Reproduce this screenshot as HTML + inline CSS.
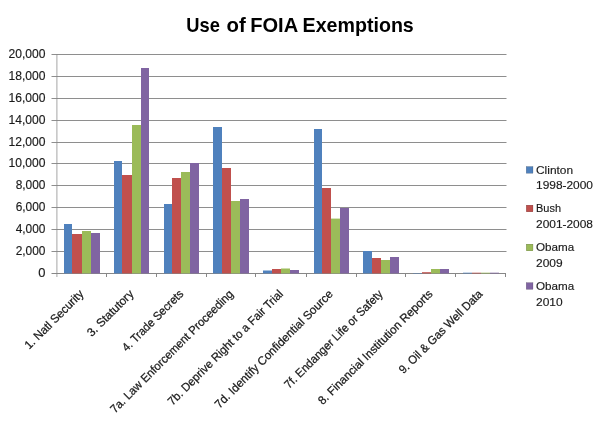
<!DOCTYPE html>
<html lang="en">
<head>
<meta charset="utf-8">
<title>Use of FOIA Exemptions</title>
<style>
html,body{margin:0;padding:0;background:#fff;}
body{width:600px;height:427px;overflow:hidden;}
svg{display:block;}
text{font-family:"Liberation Sans",Arial,sans-serif;fill:#1a1a1a;}
.t{font-weight:bold;font-size:19.9px;fill:#000;}
.a{font-size:12px;stroke:#1a1a1a;stroke-width:0.15px;}
.l{font-size:11.7px;stroke:#1a1a1a;stroke-width:0.15px;}
.c{font-size:11.8px;stroke:#1a1a1a;stroke-width:0.25px;}
</style>
</head>
<body>
<svg width="600" height="427" viewBox="0 0 600 427">
<rect width="600" height="427" fill="#ffffff"/>
<text class="t" y="32.2"><tspan x="186.3" textLength="33.6" lengthAdjust="spacingAndGlyphs">Use</tspan> <tspan x="226.6" textLength="19.2" lengthAdjust="spacingAndGlyphs">of</tspan> <tspan x="250.2" textLength="47.2" lengthAdjust="spacingAndGlyphs">FOIA</tspan> <tspan x="302.6" textLength="111.2" lengthAdjust="spacingAndGlyphs">Exemptions</tspan></text>
<g fill="#8e8e8e">
<rect x="51.5" y="54" width="455" height="1"/>
<rect x="51.5" y="76" width="455" height="1"/>
<rect x="51.5" y="98" width="455" height="1"/>
<rect x="51.5" y="120" width="455" height="1"/>
<rect x="51.5" y="142" width="455" height="1"/>
<rect x="51.5" y="163" width="455" height="1"/>
<rect x="51.5" y="185" width="455" height="1"/>
<rect x="51.5" y="207" width="455" height="1"/>
<rect x="51.5" y="229" width="455" height="1"/>
<rect x="51.5" y="251" width="455" height="1"/>
</g>
<g fill="#878787">
<rect x="56.4" y="54" width="1" height="223" opacity="0.75"/>
<rect x="51.5" y="273" width="454.5" height="1"/>
<rect x="106" y="273" width="1" height="4"/>
<rect x="156" y="273" width="1" height="4"/>
<rect x="206" y="273" width="1" height="4"/>
<rect x="255" y="273" width="1" height="4"/>
<rect x="306" y="273" width="1" height="4"/>
<rect x="356" y="273" width="1" height="4"/>
<rect x="405" y="273" width="1" height="4"/>
<rect x="455" y="273" width="1" height="4"/>
<rect x="505" y="273" width="1" height="4"/>
</g>
<g>
<rect x="64" y="224" width="8" height="49.4" fill="#4F81BD"/>
<rect x="72" y="234" width="10" height="39.4" fill="#C0504D"/>
<rect x="82" y="231" width="9" height="42.4" fill="#9BBB59"/>
<rect x="91" y="233" width="9" height="40.4" fill="#8064A2"/>
</g>
<g>
<rect x="114" y="161" width="8" height="112.4" fill="#4F81BD"/>
<rect x="122" y="175" width="10" height="98.4" fill="#C0504D"/>
<rect x="132" y="125" width="9" height="148.4" fill="#9BBB59"/>
<rect x="141" y="68" width="8" height="205.4" fill="#8064A2"/>
</g>
<g>
<rect x="164" y="204" width="8" height="69.4" fill="#4F81BD"/>
<rect x="172" y="178" width="9" height="95.4" fill="#C0504D"/>
<rect x="181" y="172" width="9" height="101.4" fill="#9BBB59"/>
<rect x="190" y="163" width="9" height="110.4" fill="#8064A2"/>
</g>
<g>
<rect x="213" y="127" width="9" height="146.4" fill="#4F81BD"/>
<rect x="222" y="168" width="9" height="105.4" fill="#C0504D"/>
<rect x="231" y="201" width="9" height="72.4" fill="#9BBB59"/>
<rect x="240" y="199" width="9" height="74.4" fill="#8064A2"/>
</g>
<g>
<rect x="263" y="270.5" width="9" height="2.9" fill="#4F81BD"/>
<rect x="272" y="269" width="9" height="4.4" fill="#C0504D"/>
<rect x="281" y="268.5" width="9" height="4.9" fill="#9BBB59"/>
<rect x="290" y="270" width="9" height="3.4" fill="#8064A2"/>
</g>
<g>
<rect x="314" y="129" width="8" height="144.4" fill="#4F81BD"/>
<rect x="322" y="188" width="9" height="85.4" fill="#C0504D"/>
<rect x="331" y="218.6" width="9" height="54.8" fill="#9BBB59"/>
<rect x="340" y="208" width="9" height="65.4" fill="#8064A2"/>
</g>
<g>
<rect x="363" y="251" width="9" height="22.4" fill="#4F81BD"/>
<rect x="372" y="258" width="9" height="15.4" fill="#C0504D"/>
<rect x="381" y="260" width="9" height="13.4" fill="#9BBB59"/>
<rect x="390" y="257" width="9" height="16.4" fill="#8064A2"/>
</g>
<g>
<rect x="413" y="273" width="9" height="0.4" fill="#4F81BD"/>
<rect x="422" y="272.2" width="9" height="1.2" fill="#C0504D"/>
<rect x="431" y="269" width="9" height="4.4" fill="#9BBB59"/>
<rect x="440" y="269" width="9" height="4.4" fill="#8064A2"/>
</g>
<g>
<rect x="463" y="272.7" width="9" height="0.7" fill="#4F81BD"/>
<rect x="472" y="272.7" width="9" height="0.7" fill="#C0504D"/>
<rect x="481" y="272.7" width="9" height="0.7" fill="#9BBB59"/>
<rect x="490" y="272.7" width="9" height="0.7" fill="#8064A2"/>
</g>
<g class="a" text-anchor="end">
<text x="45.5" y="58.1" textLength="37.0" lengthAdjust="spacingAndGlyphs">20,000</text>
<text x="45.5" y="80.1" textLength="37.0" lengthAdjust="spacingAndGlyphs">18,000</text>
<text x="45.5" y="102.1" textLength="37.0" lengthAdjust="spacingAndGlyphs">16,000</text>
<text x="45.5" y="124.1" textLength="37.0" lengthAdjust="spacingAndGlyphs">14,000</text>
<text x="45.5" y="146.1" textLength="37.0" lengthAdjust="spacingAndGlyphs">12,000</text>
<text x="45.5" y="167.1" textLength="37.0" lengthAdjust="spacingAndGlyphs">10,000</text>
<text x="45.5" y="189.1" textLength="29.8" lengthAdjust="spacingAndGlyphs">8,000</text>
<text x="45.5" y="211.1" textLength="29.8" lengthAdjust="spacingAndGlyphs">6,000</text>
<text x="45.5" y="233.1" textLength="29.8" lengthAdjust="spacingAndGlyphs">4,000</text>
<text x="45.5" y="255.1" textLength="29.8" lengthAdjust="spacingAndGlyphs">2,000</text>
<text x="45.5" y="277.1" textLength="7.2" lengthAdjust="spacingAndGlyphs">0</text>
</g>
<g class="c" text-anchor="end">
<text transform="translate(84.42,294.70) rotate(-45)" textLength="78.0" lengthAdjust="spacingAndGlyphs">1. Natl Security</text>
<text transform="translate(134.28,294.70) rotate(-45)" textLength="60.2" lengthAdjust="spacingAndGlyphs">3. Statutory</text>
<text transform="translate(184.12,294.70) rotate(-45)" textLength="81.0" lengthAdjust="spacingAndGlyphs">4. Trade Secrets</text>
<text transform="translate(233.97,294.70) rotate(-45)" textLength="168.3" lengthAdjust="spacingAndGlyphs">7a. Law Enforcement Proceeding</text>
<text transform="translate(283.83,294.70) rotate(-45)" textLength="157.3" lengthAdjust="spacingAndGlyphs">7b. Deprive Right to a Fair Trial</text>
<text transform="translate(333.68,294.70) rotate(-45)" textLength="161.5" lengthAdjust="spacingAndGlyphs">7d. Identify Confidential Source</text>
<text transform="translate(383.53,294.70) rotate(-45)" textLength="133.6" lengthAdjust="spacingAndGlyphs">7f. Endanger Life or Safety</text>
<text transform="translate(433.38,294.70) rotate(-45)" textLength="156.4" lengthAdjust="spacingAndGlyphs">8. Financial Institution Reports</text>
<text transform="translate(483.23,294.70) rotate(-45)" textLength="112.6" lengthAdjust="spacingAndGlyphs">9. Oil &amp; Gas Well Data</text>
</g>
<g class="l">
<rect x="526.2" y="166.5" width="6.8" height="6.8" fill="#4F81BD"/>
<text x="536" y="173.7" textLength="37.1" lengthAdjust="spacingAndGlyphs">Clinton</text>
<text x="536" y="189.0" textLength="57.0" lengthAdjust="spacingAndGlyphs">1998-2000</text>
<rect x="526.2" y="205.1" width="6.8" height="6.8" fill="#C0504D"/>
<text x="536" y="212.3" textLength="25.0" lengthAdjust="spacingAndGlyphs">Bush</text>
<text x="536" y="228.0" textLength="57.0" lengthAdjust="spacingAndGlyphs">2001-2008</text>
<rect x="526.2" y="244.1" width="6.8" height="6.8" fill="#9BBB59"/>
<text x="536" y="251.3" textLength="38.2" lengthAdjust="spacingAndGlyphs">Obama</text>
<text x="536" y="267.0" textLength="26.6" lengthAdjust="spacingAndGlyphs">2009</text>
<rect x="526.2" y="282.6" width="6.8" height="6.8" fill="#8064A2"/>
<text x="536" y="289.8" textLength="38.2" lengthAdjust="spacingAndGlyphs">Obama</text>
<text x="536" y="305.5" textLength="26.6" lengthAdjust="spacingAndGlyphs">2010</text>
</g>
</svg>
</body>
</html>
